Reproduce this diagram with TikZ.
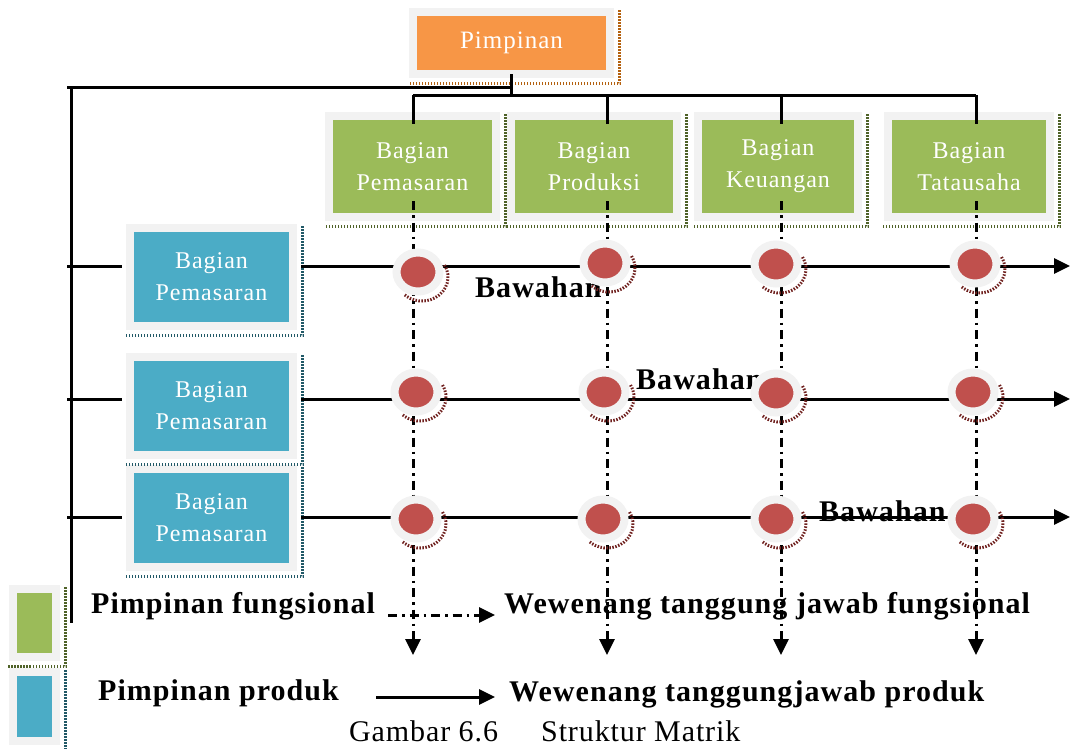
\documentclass[tikz,border=0pt]{standalone}
\usepackage{fontspec}
\setmainfont{Liberation Serif}
\usetikzlibrary{arrows.meta,shapes.geometric}

\definecolor{framegray}{HTML}{F2F2F2}
\definecolor{headorange}{HTML}{F79646}
\definecolor{funcgreen}{HTML}{9BBB59}
\definecolor{prodblue}{HTML}{4BACC6}
\definecolor{dotred}{HTML}{C0504D}
\definecolor{orangeshade}{HTML}{B4610F}
\definecolor{greenshade}{HTML}{4F6228}
\definecolor{blueshade}{HTML}{215967}
\definecolor{redshade}{HTML}{6E1F1D}

\tikzset{
  unitbox/.style={draw=framegray, line width=8pt, inner sep=0pt, align=center,
    text=white, font=\fontsize{24}{32}\selectfont\addfontfeatures{LetterSpace=4}},
  dithershadow/.style={line width=3pt, dash pattern=on 1.5pt off 1.5pt},
  link/.style={line width=3pt},
  dashdot/.style={line width=3pt, dash pattern=on 9pt off 5pt on 2.5pt off 5pt},
  arrowhd/.style={-{Triangle[length=16pt,width=15pt]}},
  junction/.style={ellipse, draw=framegray, line width=8pt, fill=dotred,
    minimum width=43pt, minimum height=39pt, inner sep=0pt},
  boldtext/.style={font=\bfseries\fontsize{30}{36}\selectfont\addfontfeatures{LetterSpace=3.5},
    inner sep=0pt, anchor=base west},
  plaintext/.style={font=\fontsize{30}{36}\selectfont\addfontfeatures{LetterSpace=3},
    inner sep=0pt, anchor=base west},
}

% dithered drop shadow along the right and bottom of a framed box
\newcommand\boxshade[2]{%
  \draw[dithershadow, draw=#2]
    ([xshift=5.5pt,yshift=-2pt]#1.north east) --
    ([xshift=5.5pt,yshift=-5.5pt]#1.south east) --
    ([xshift=-1pt,yshift=-5.5pt]#1.south west);}

\begin{document}
\begin{tikzpicture}[x=1pt,y=-1pt]
\useasboundingbox (0,0) rectangle (1071,748);

% head of the organisation
\node[unitbox, fill=headorange, minimum width=197pt, minimum height=62pt,
  font=\fontsize{25}{30}\selectfont\addfontfeatures{LetterSpace=4}] (head) at (511.5,43) {Pimpinan};
\boxshade{head}{orangeshade}

% functional departments
\node[unitbox, fill=funcgreen, minimum width=167pt, minimum height=101pt] (f1) at (412.5,166.5) {Bagian\\Pemasaran};
\node[unitbox, fill=funcgreen, minimum width=166pt, minimum height=101pt] (f2) at (594,166.5) {Bagian\\Produksi};
\node[unitbox, fill=funcgreen, minimum width=160pt, minimum height=101pt] (f3) at (778,166.5) {Bagian\\Keuangan};
\node[unitbox, fill=funcgreen, minimum width=162pt, minimum height=101pt] (f4) at (969,166.5) {Bagian\\Tatausaha};
\foreach \b in {f1,f2,f3,f4} {\boxshade{\b}{greenshade}}

% product departments
\node[unitbox, fill=prodblue, minimum width=163pt, minimum height=98pt] (p1) at (211.5,277) {Bagian\\Pemasaran};
\node[unitbox, fill=prodblue, minimum width=163pt, minimum height=98pt] (p2) at (211.5,406) {Bagian\\Pemasaran};
\node[unitbox, fill=prodblue, minimum width=163pt, minimum height=98pt] (p3) at (211.5,518) {Bagian\\Pemasaran};
\foreach \b in {p1,p2,p3} {\boxshade{\b}{blueshade}}

% legend swatches
\node[unitbox, fill=funcgreen, minimum width=43pt, minimum height=68pt] (kf) at (34.5,623) {};
\node[unitbox, fill=prodblue, minimum width=43pt, minimum height=69pt] (kp) at (34.5,706.5) {};
\boxshade{kf}{greenshade}
\boxshade{kp}{blueshade}

% texts
\node[boldtext] (w1) at (475,297) {Bawahan};
\node[boldtext] (w2) at (636,389) {Bawahan};
\node[boldtext] (w3) at (819,521) {Bawahan};
\node[boldtext] (lf) at (91,613) {Pimpinan fungsional};
\node[boldtext] (lp) at (98,700) {Pimpinan produk};
\node[boldtext] (wf) at (504,613) {Wewenang tanggung jawab fungsional};
\node[boldtext] (wp) at (509,701) {Wewenang tanggungjawab produk};
\node[plaintext] (capnum) at (349,741) {Gambar 6.6};
\node[plaintext] (captitle) at (541,741) {Struktur Matrik};

% column positions on the distribution bus
\coordinate (k1) at (413,95);
\coordinate (k2) at (607,95);
\coordinate (k3) at (781,95);
\coordinate (k4) at (976,95);
\coordinate (colend) at (0,655);

% top hierarchy
\draw[link] ([yshift=4pt]head.south) -- (head.south |- k1);
\draw[link] (k1) -- (k4);
\foreach \k/\f in {k1/f1,k2/f2,k3/f3,k4/f4}
  \draw[link, shorten >=-12pt] (\k) -- (\k |- \f.north);

% left spine to the product departments
\coordinate (lt) at (67,87);
\coordinate (lb) at (71,623);
\draw[link] (lt) -- (lt -| head.south);
\draw[link] (lb |- lt) -- (lb);

% product rows
\coordinate (r1) at (67,266);
\coordinate (r2) at (67,399);
\coordinate (r3) at (67,517);
\coordinate (e1) at (1070,266);
\coordinate (e2) at (1070,399);
\coordinate (e3) at (1070,517);
\foreach \r/\p/\e in {r1/p1/e1,r2/p2/e2,r3/p3/e3} {
  \draw[link, shorten >=4pt] (\r) -- (\r -| \p.west);
  \draw[link, arrowhd, shorten <=4pt] (\r -| \p.east) -- (\e);
}

% functional columns
\foreach \k/\f in {k1/f1,k2/f2,k3/f3,k4/f4}
  \draw[dashdot, arrowhd, shorten <=-20pt] (\k |- \f.south) -- (\k |- colend);

% legend arrows
\coordinate (fa) at (388,615);
\coordinate (pa) at (376,697);
\draw[dashdot, arrowhd, shorten >=9pt] (fa) -- (fa -| wf.west);
\draw[link, arrowhd, shorten >=14pt] (pa) -- (pa -| wp.west);

% junctions of the matrix
\foreach \n/\x/\y in {c11/418/272, c12/605/263, c13/776/264, c14/975/264,
                      c21/416/392, c22/604/392, c23/776/393, c24/973/392,
                      c31/416/519, c32/603/519, c33/776/519, c34/973/519} {
  \draw[dithershadow, draw=redshade]
    ([shift={(\x+4,\y+5)}]-30:26 and 24) arc[start angle=-30, end angle=135, x radius=26, y radius=24];
  \node[junction] (\n) at (\x,\y) {};
}
\end{tikzpicture}
\end{document}
